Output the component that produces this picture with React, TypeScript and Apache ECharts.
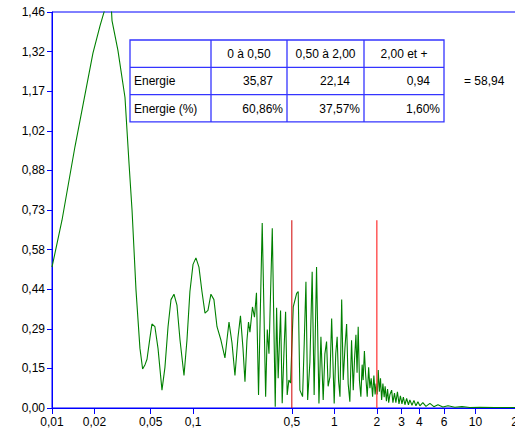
import React, { useEffect, useRef } from "react";
import * as echarts from "echarts";

// ---- Data ----
const yMax = 1.4615;
const yStep = 0.14615;
const yTickLabels = ["0,00", "0,15", "0,29", "0,44", "0,58", "0,73", "0,88", "1,02", "1,17", "1,32", "1,46"];
const xTickValues = [0.01, 0.02, 0.05, 0.1, 0.5, 1, 2, 3, 4, 6, 10, 20];

// spectrum: [frequency, amplitude]
const spectrum: [number, number][] = [
  [0.01, 0.52], [0.01177, 0.693], [0.01455, 0.965], [0.0195, 1.31], [0.02188, 1.41],
  [0.02333, 1.46], [0.02495, 1.52], [0.02618, 1.5], [0.02661, 1.43], [0.02931, 1.32],
  [0.03289, 1.146], [0.03508, 0.907], [0.0369, 0.73], [0.03936, 0.435], [0.04198, 0.22],
  [0.04385, 0.144], [0.0456, 0.16], [0.0471, 0.18], [0.04943, 0.26], [0.05105, 0.31],
  [0.05358, 0.3], [0.05636, 0.22], [0.06012, 0.066], [0.0631, 0.15], [0.06637, 0.3],
  [0.06966, 0.4], [0.07311, 0.42], [0.07674, 0.38], [0.08072, 0.25], [0.0861, 0.12],
  [0.09036, 0.25], [0.09484, 0.43], [0.09977, 0.53], [0.1046, 0.554], [0.1099, 0.52],
  [0.1154, 0.43], [0.1213, 0.35], [0.1273, 0.36], [0.1336, 0.42], [0.1403, 0.4],
  [0.1475, 0.3], [0.1574, 0.25], [0.1679, 0.185], [0.1734, 0.25], [0.1794, 0.317],
  [0.1884, 0.24], [0.1977, 0.12], [0.2076, 0.26], [0.2163, 0.34], [0.2254, 0.22],
  [0.2328, 0.097], [0.2404, 0.25], [0.2466, 0.317], [0.2524, 0.28], [0.2631, 0.373],
  [0.2718, 0.335], [0.2808, 0.425], [0.2904, 0.048], [0.3084, 0.683], [0.3261, 0.042],
  [0.335, 0.29], [0.3443, 0.2], [0.3634, 0.663], [0.3814, 0.005], [0.39, 0.37],
  [0.4001, 0.11], [0.416, 0.36], [0.4272, 0.018], [0.4413, 0.23], [0.4516, 0.355],
  [0.4634, 0.048], [0.4764, 0.103], [0.4898, 0.092], [0.5117, 0.373], [0.5408, 0.423],
  [0.5546, 0.43], [0.5702, 0.066], [0.5957, 0.042], [0.612, 0.24], [0.6293, 0.466],
  [0.6471, 0.03], [0.6714, 0.17], [0.6966, 0.503], [0.7194, 0.048], [0.7482, 0.52],
  [0.778, 0.017], [0.8035, 0.263], [0.8337, 0.03], [0.857, 0.2], [0.881, 0.245],
  [0.9036, 0.08], [0.9311, 0.115], [0.9572, 0.33], [0.9977, 0.017], [1.0233, 0.2],
  [1.0471, 0.263], [1.0715, 0.1], [1.0965, 0.042], [1.1272, 0.4], [1.1561, 0.103],
  [1.1885, 0.22], [1.2218, 0.31], [1.2531, 0.09], [1.2883, 0.023], [1.3243, 0.25],
  [1.3614, 0.066], [1.39, 0.18], [1.4223, 0.27], [1.4488, 0.13], [1.4757, 0.3],
  [1.5066, 0.1], [1.5417, 0.042], [1.574, 0.16], [1.5996, 0.103], [1.6331, 0.21],
  [1.6634, 0.128], [1.71, 0.042], [1.75, 0.15], [1.7865, 0.073], [1.8239, 0.11],
  [1.8663, 0.042], [1.9055, 0.12], [1.9454, 0.05], [1.977, 0.09], [2.0137, 0.05],
  [2.0464, 0.14], [2.0839, 0.06], [2.1232, 0.11], [2.1627, 0.03], [2.208, 0.09],
  [2.2542, 0.04], [2.2909, 0.08], [2.3388, 0.025], [2.3823, 0.07], [2.4266, 0.02],
  [2.4774, 0.05], [2.5468, 0.066], [2.6002, 0.02], [2.6669, 0.055], [2.729, 0.02],
  [2.799, 0.06], [2.8708, 0.015], [2.9376, 0.045], [3.013, 0.015], [3.0832, 0.04],
  [3.1623, 0.012], [3.2509, 0.035], [3.3497, 0.012], [3.4277, 0.03], [3.5481, 0.01],
  [3.6644, 0.028], [3.7844, 0.008], [3.9084, 0.023], [4.0365, 0.008], [4.2364, 0.02],
  [4.4566, 0.006], [4.7534, 0.017], [5.0699, 0.005], [5.42, 0.012], [5.8749, 0.004],
  [6.3826, 0.008], [7.145, 0.003], [8.0168, 0.005], [9.1201, 0.002], [10.74, 0.003],
  [13.709, 0.002], [20, 0.002],
];

const cutLow: [number, number][] = [[0.5, 0], [0.5, 0.693]];
const cutHigh: [number, number][] = [[2, 0], [2, 0.693]];

// table
const tableHeader = ["", "0 à 0,50", "0,50 à 2,00", "2,00 et +"];
const rowLabels = ["Energie", "Energie (%)"];
const energy = [35.87, 22.14, 0.94];
const energyPct = [60.86, 37.57, 1.6];
const energyTotal = 58.94;

const fmt = (v: number, d = 2) => v.toFixed(d).replace(".", ",");
const FONT = '"Liberation Sans", Arial, Helvetica, sans-serif';
const BLUE = "#0000ff";

function buildTable() {
  const left = 130;
  const top = 40;
  const colW = [81, 76, 77, 80];
  const rowH = 27.3;
  const width = colW.reduce((a, b) => a + b, 0);
  const height = rowH * 3;
  const border = { stroke: "#3434ff", lineWidth: 1.3 };
  const els: any[] = [];
  els.push({ type: "rect", shape: { x: left, y: top, width, height }, style: { fill: "#fff", ...border }, z: 10 });
  for (let r = 1; r < 3; r++) {
    const y = top + rowH * r;
    els.push({ type: "line", shape: { x1: left, y1: y, x2: left + width, y2: y }, style: border, z: 11 });
  }
  const colX: number[] = [left];
  for (let c = 0; c < colW.length; c++) colX.push(colX[c] + colW[c]);
  for (let c = 1; c < colW.length; c++) {
    els.push({ type: "line", shape: { x1: colX[c], y1: top, x2: colX[c], y2: top + height }, style: border, z: 11 });
  }
  const txt = (text: string, x: number, y: number, align: string) => ({
    type: "text",
    x,
    y,
    z: 12,
    style: { text, font: `12px ${FONT}`, fill: "#000", textAlign: align, textVerticalAlign: "middle" },
  });
  for (let c = 1; c < tableHeader.length; c++) {
    els.push(txt(tableHeader[c], (colX[c] + colX[c + 1]) / 2, top + rowH / 2 + 0.5, "center"));
  }
  const rowsY = [top + rowH * 1.5 + 0.5, top + rowH * 2.5 + 0.5];
  els.push(txt(rowLabels[0], left + 4, rowsY[0], "left"));
  els.push(txt(rowLabels[1], left + 4, rowsY[1], "left"));
  for (let c = 0; c < energy.length; c++) {
    els.push(txt(fmt(energy[c]), colX[c + 2] - 14, rowsY[0], "right"));
    els.push(txt(fmt(energyPct[c]) + "%", colX[c + 2] - 4, rowsY[1], "right"));
  }
  els.push(txt("= " + fmt(energyTotal), left + width + 20, rowsY[0], "left"));
  return els;
}

export default function App() {
  const ref = useRef<HTMLDivElement>(null);
  useEffect(() => {
    if (!ref.current) return;
    const chart = echarts.init(ref.current, undefined, { renderer: "svg" });
    chart.setOption({
      animation: false,
      backgroundColor: "#fff",
      grid: {
        left: 52,
        top: 12,
        width: 466,
        height: 396,
        show: true,
        borderColor: BLUE,
        borderWidth: 1,
        backgroundColor: "transparent",
      },
      xAxis: {
        type: "log",
        logBase: 10,
        min: 0.01,
        max: 20,
        axisLine: { show: true, lineStyle: { color: BLUE, width: 1 } },
        axisTick: { show: true, length: 6, inside: false, customValues: xTickValues, lineStyle: { color: BLUE } },
        minorTick: { show: false },
        splitLine: { show: false },
        axisLabel: {
          customValues: xTickValues,
          fontSize: 12,
          fontFamily: FONT,
          color: "#000",
          margin: 8,
          formatter: (v: number) => String(v).replace(".", ","),
        },
      },
      yAxis: {
        type: "value",
        min: 0,
        max: yMax,
        interval: yStep,
        axisLine: { show: true, lineStyle: { color: BLUE, width: 1 } },
        axisTick: { show: true, length: 5, inside: false, lineStyle: { color: BLUE } },
        splitLine: { show: false },
        axisLabel: {
          fontSize: 12,
          fontFamily: FONT,
          color: "#000",
          margin: 7,
          formatter: (v: number) => {
            const i = Math.round(v / yStep);
            return yTickLabels[i] ?? fmt(v);
          },
        },
      },
      series: [
        {
          type: "line",
          data: spectrum,
          showSymbol: false,
          clip: true,
          lineStyle: { color: "#008000", width: 1.1 },
          z: 3,
        },
        {
          type: "line",
          data: cutLow,
          showSymbol: false,
          lineStyle: { color: "#d00000", width: 1 },
          z: 4,
        },
        {
          type: "line",
          data: cutHigh,
          showSymbol: false,
          lineStyle: { color: "#ff4040", width: 1.3 },
          z: 4,
        },
      ],
      graphic: buildTable(),
    });
    return () => chart.dispose();
  }, []);
  return (
    <div style={{ position: "fixed", left: 0, top: 0, width: 515, height: 432, overflow: "hidden", background: "#fff" }}>
      <div ref={ref} style={{ width: 540, height: 432 }} />
    </div>
  );
}
